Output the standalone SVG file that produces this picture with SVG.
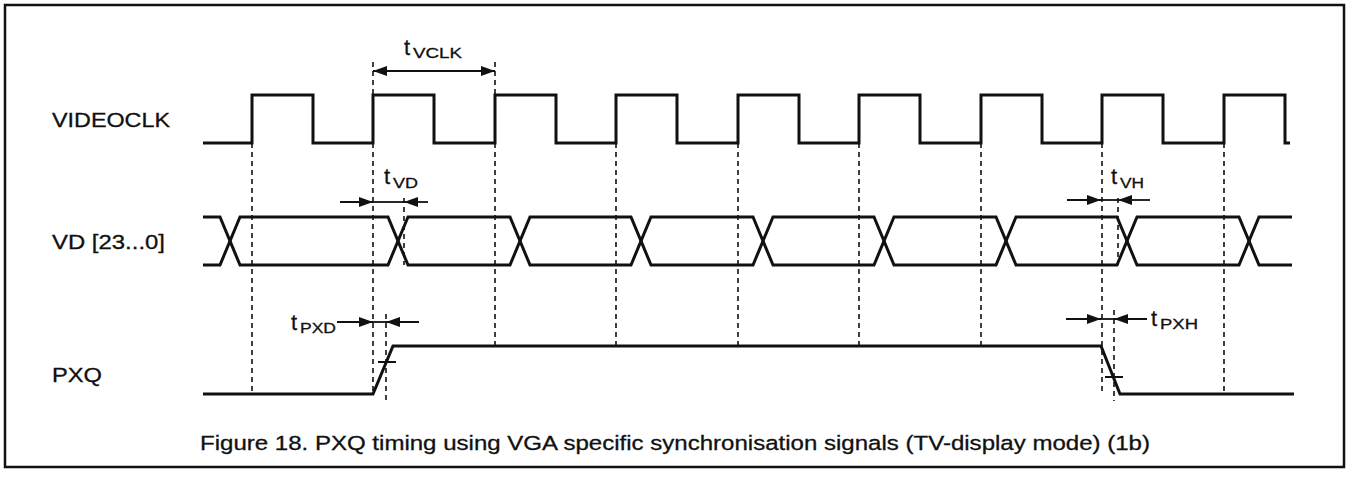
<svg xmlns="http://www.w3.org/2000/svg" width="1347" height="477" viewBox="0 0 1347 477">
<style>
.sig{fill:none;stroke:#111;stroke-width:3;stroke-linejoin:miter}
.dash{fill:none;stroke:#111;stroke-width:1.6;stroke-dasharray:5,4}
.dim{fill:none;stroke:#111;stroke-width:1.8}
.lbl{font-family:"Liberation Sans",Arial,sans-serif;font-size:20px;fill:#111;stroke:#111;stroke-width:0.3}
.t{font-family:"Liberation Sans",Arial,sans-serif;font-size:22px;fill:#111;stroke:#111;stroke-width:0.3}
.sub{font-family:"Liberation Sans",Arial,sans-serif;font-size:15.5px;fill:#111;stroke:#111;stroke-width:0.3}
</style>
<defs>
<marker id="ah" markerUnits="userSpaceOnUse" markerWidth="15" markerHeight="11" refX="14" refY="5" orient="auto-start-reverse" viewBox="0 0 15 11">
<path d="M0,0 L14,5 L0,10 z" fill="#111"/>
</marker>
</defs>
<rect x="0" y="0" width="1347" height="477" fill="#fff"/>
<rect id="frame" x="5" y="5" width="1339" height="462" fill="none" stroke="#111" stroke-width="2.5"/>

<g id="labels">
<text class="lbl" x="52" y="127" textLength="118" lengthAdjust="spacingAndGlyphs">VIDEOCLK</text>
<text class="lbl" x="52" y="249" textLength="113" lengthAdjust="spacingAndGlyphs">VD [23...0]</text>
<text class="lbl" x="52" y="382" textLength="50" lengthAdjust="spacingAndGlyphs">PXQ</text>
</g>

<g id="connectors">
<path class="dash" d="M252,143 V395 M373,62 V395 M495,62 V346 M616,143 V346 M738,143 V346 M859,143 V346 M981,143 V346 M1102,143 V395 M1224,143 V394"/>
<path class="dash" d="M386,314 V401 M1114,310 V401 M404,198 V265 M1118,198 V265"/>
<path class="dim" d="M373,71 H495" marker-start="url(#ah)" marker-end="url(#ah)"/>
<path class="dim" d="M340,202 H373" marker-end="url(#ah)"/>
<path class="dim" d="M428,202 H404" marker-end="url(#ah)"/>
<path class="dim" d="M373,202 H404"/>
<path class="dim" d="M1067,200 H1101" marker-end="url(#ah)"/>
<path class="dim" d="M1150,200 H1118" marker-end="url(#ah)"/>
<path class="dim" d="M1101,200 H1118"/>
<path class="dim" d="M337,322 H373" marker-end="url(#ah)"/>
<path class="dim" d="M419,322 H386" marker-end="url(#ah)"/>
<path class="dim" d="M373,322 H386"/>
<path class="dim" d="M1066,319 H1101" marker-end="url(#ah)"/>
<path class="dim" d="M1147,319 H1114" marker-end="url(#ah)"/>
<path class="dim" d="M1101,319 H1114"/>
</g>

<g id="videoclk">
<path class="sig" d="M203,143 H252 V95 H313 V143 H373 V95 H434 V143 H495 V95 H556 V143 H616 V95 H677 V143 H738 V95 H799 V143 H859 V95 H920 V143 H981 V95 H1042 V143 H1102 V95 H1163 V143 H1224 V95 H1285 V143 H1290"/>
</g>

<g id="vd">
<path class="sig" d="M203,217 H220 L240,265 H388 L408,217 H510 L530,265 H631 L651,217 H753 L773,265 H874 L894,217 H996 L1016,265 H1117 L1137,217 H1239 L1259,265 H1292"/>
<path class="sig" d="M203,265 H220 L240,217 H388 L408,265 H510 L530,217 H631 L651,265 H753 L773,217 H874 L894,265 H996 L1016,217 H1117 L1137,265 H1239 L1259,217 H1292"/>
</g>

<g id="pxq">
<path class="sig" d="M203,394 H373 L393,346 H1101 L1120,394 H1294"/>
<path class="dim" d="M378,362 H396 M1105,377 H1123"/>
</g>

<g id="tvclk">
<text class="t" x="404" y="55">t</text>
<text class="sub" x="413" y="58" textLength="49" lengthAdjust="spacingAndGlyphs">VCLK</text>
</g>
<g id="tvd">
<text class="t" x="384" y="184">t</text>
<text class="sub" x="393" y="188" textLength="25" lengthAdjust="spacingAndGlyphs">VD</text>
</g>
<g id="tvh">
<text class="t" x="1111" y="184">t</text>
<text class="sub" x="1120" y="188" textLength="24" lengthAdjust="spacingAndGlyphs">VH</text>
</g>
<g id="tpxd">
<text class="t" x="291" y="330">t</text>
<text class="sub" x="300" y="333" textLength="36" lengthAdjust="spacingAndGlyphs">PXD</text>
</g>
<g id="tpxh">
<text class="t" x="1151" y="326">t</text>
<text class="sub" x="1160" y="329" textLength="38" lengthAdjust="spacingAndGlyphs">PXH</text>
</g>

<g id="caption">
<text class="lbl" x="200" y="450" style="font-size:20.5px" textLength="950" lengthAdjust="spacingAndGlyphs">Figure 18. PXQ timing using VGA specific synchronisation signals (TV-display mode) (1b)</text>
</g>
</svg>
